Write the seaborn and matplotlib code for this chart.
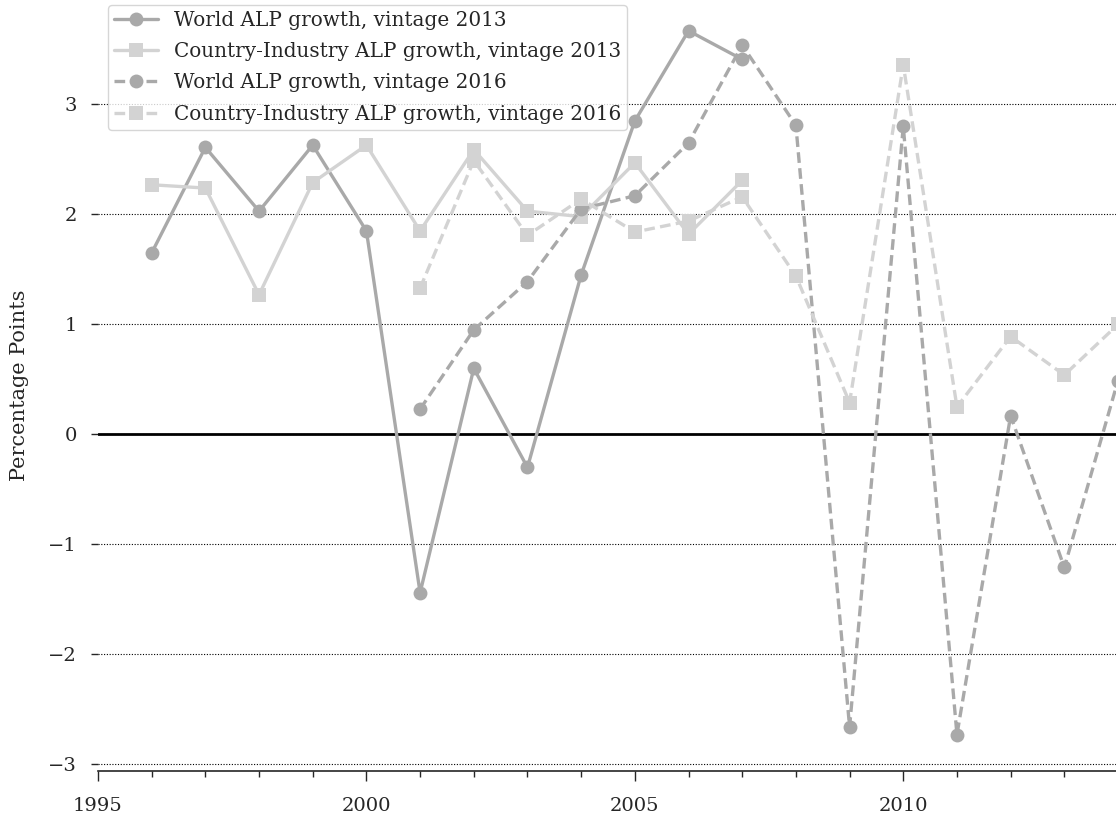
import numpy as np
import pandas as pd
import seaborn as sns
import matplotlib
matplotlib.use("Agg")
from matplotlib import pyplot as plt
from matplotlib.ticker import MultipleLocator

years_2013 = [1996, 1997, 1998, 1999, 2000, 2001, 2002, 2003, 2004, 2005, 2006, 2007]
world_2013 = [1.65, 2.61, 2.03, 2.63, 1.85, -1.44, 0.60, -0.30, 1.45, 2.85, 3.67, 3.41]
country_2013 = [2.27, 2.24, 1.27, 2.29, 2.63, 1.85, 2.59, 2.03, 1.98, 2.47, 1.82, 2.31]

years_2016 = list(range(2001, 2015))
world_2016 = [0.23, 0.95, 1.39, 2.05, 2.17, 2.65, 3.54, 2.81, -2.66, 2.80, -2.73, 0.17, -1.21, 0.49]
country_2016 = [1.33, 2.49, 1.81, 2.14, 1.84, 1.94, 2.16, 1.44, 0.29, 3.36, 0.25, 0.89, 0.54, 1.00]

sns.set_style("ticks")
plt.rcParams['font.family'] = ['DejaVu Serif']

dark = "#a9a9a9"
light = "#d3d3d3"

fig = plt.figure(figsize=(11.16, 8.21), dpi=100)
ax = fig.add_axes([0.0878, 0.061, 0.914, 0.939])

ax.axhline(0, color="black", lw=2, zorder=1)
for v in range(-3, 4):
    ax.axhline(v, color="black", lw=0.8, ls=(0, (1, 1.5)), zorder=0)

series = [
    (years_2013, world_2013, dark, "o", False, "World ALP growth, vintage 2013"),
    (years_2013, country_2013, light, "s", False, "Country-Industry ALP growth, vintage 2013"),
    (years_2016, world_2016, dark, "o", True, "World ALP growth, vintage 2016"),
    (years_2016, country_2016, light, "s", True, "Country-Industry ALP growth, vintage 2016"),
]
for x, y, c, m, dashed, lab in series:
    df = pd.DataFrame({"year": x, "val": y})
    n = len(ax.lines)
    sns.lineplot(data=df, x="year", y="val", ax=ax, color=c, marker=m,
                 lw=2.4, markersize=10, markeredgewidth=0, label=lab, zorder=3)
    if dashed:
        ax.lines[n].set_dashes((3.2, 1.6))

ax.set_xlim(1995, 2014)
ax.set_ylim(-3.06, 3.95)
ax.xaxis.set_major_locator(MultipleLocator(5))
ax.xaxis.set_minor_locator(MultipleLocator(1))
ax.yaxis.set_major_locator(MultipleLocator(1))
ax.tick_params(axis="x", which="major", length=7, width=1, labelsize=14, pad=12)
ax.tick_params(axis="x", which="minor", length=4, width=1)
ax.tick_params(axis="y", length=5, width=1, labelsize=14, pad=10)
ax.set_xlabel("")
ax.set_ylabel("Percentage Points", fontsize=15, labelpad=14)
for s in ["top", "right", "left"]:
    ax.spines[s].set_visible(False)
ax.spines["bottom"].set_linewidth(1.2)

leg = ax.legend(loc="upper left", bbox_to_anchor=(0.0, 1.007), fontsize=14.4, frameon=True,
                handlelength=2.2, borderpad=0.3, labelspacing=0.62)
leg.get_frame().set_edgecolor("#cccccc")
for h in leg.get_lines()[2:]:
    h.set_dashes((3.2, 1.6))

fig.savefig("out.png", dpi=100)
